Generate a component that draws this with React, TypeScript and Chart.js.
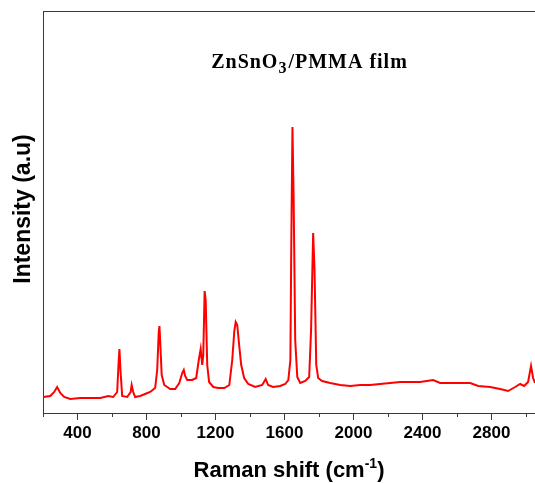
import React, { useEffect, useRef } from "react";
import { Chart, registerables } from "chart.js";

Chart.register(...registerables);

const wavenumbers = [
  201, 242, 265, 282, 300, 323, 358, 416, 474, 532, 578, 607, 630, 639, 643, 649, 659, 688,
  708, 714, 723, 734, 763, 792, 821, 850, 862, 871, 875, 879, 888, 903, 937, 966, 990, 1007,
  1016, 1024, 1036, 1065, 1088, 1103, 1114, 1123, 1129, 1137, 1143, 1152, 1163, 1187, 1216,
  1251, 1280, 1297, 1309, 1317, 1326, 1337, 1349, 1366, 1390, 1430, 1471, 1491, 1505, 1534,
  1575, 1604, 1622, 1634, 1639, 1646, 1653, 1662, 1674, 1691, 1720, 1743, 1754, 1766, 1774,
  1784, 1795, 1818, 1865, 1923, 1981, 2039, 2096, 2154, 2212, 2270, 2328, 2386, 2461, 2502,
  2560, 2618, 2676, 2723, 2792, 2850, 2896, 2937, 2966, 2989, 3012, 3029, 3041, 3052,
];
const intensity = [
  16, 17, 21, 26, 20, 16, 14, 15, 15, 15, 17, 16, 21, 53, 64, 43, 17, 16,
  21, 28, 21, 16, 17, 19, 21, 25, 43, 81, 87, 73, 38, 28, 24, 24, 30, 40,
  43, 37, 33, 33, 35, 53, 64, 48, 58, 122, 113, 48, 31, 26, 25,
  25, 28, 53, 82, 91, 88, 68, 48, 35, 29, 26, 28, 34, 28, 26,
  27, 29, 33, 53, 163, 286, 213, 73, 36, 30, 32, 36, 83, 180, 143,
  48, 35, 32, 30, 28, 27, 28, 28, 29, 30, 31, 31, 31, 33, 30,
  30, 30, 30, 27, 26, 24, 22, 26, 29, 27, 31, 47, 35, 30,
];
const majorTicks = [400, 800, 1200, 1600, 2000, 2400, 2800];
const minorTicks = [200, 600, 1000, 1400, 1800, 2200, 2600, 3000];
const xTitle = "Raman shift (cm";
const xTitleSup = "-1";
const yTitle = "Intensity (a.u)";
const annotationParts = ["ZnSnO", "3", "/PMMA film"];

const AXIS_COLOR = "#3a3a3a";
const SANS = "'Liberation Sans', Arial, sans-serif";
const SERIF = "'Liberation Serif', 'Times New Roman', serif";

const decorPlugin = {
  id: "decor",
  afterDraw(chart: any) {
    const { ctx, chartArea } = chart;
    const xs = chart.scales.x;
    ctx.save();
    // top border
    ctx.strokeStyle = AXIS_COLOR;
    ctx.lineWidth = 1;
    ctx.beginPath();
    ctx.moveTo(chartArea.left, chartArea.top + 0.5);
    ctx.lineTo(chartArea.right, chartArea.top + 0.5);
    ctx.stroke();
    // minor ticks
    ctx.beginPath();
    for (const v of minorTicks) {
      const px = Math.round(xs.getPixelForValue(v)) + 0.5;
      if (px < chartArea.left - 1 || px > chartArea.right + 1) continue;
      ctx.moveTo(px, chartArea.bottom);
      ctx.lineTo(px, chartArea.bottom + 4);
    }
    ctx.stroke();

    // x title
    ctx.fillStyle = "#000";
    ctx.textBaseline = "alphabetic";
    const tBig = "bold 22px " + SANS;
    const tSmall = "bold 14px " + SANS;
    ctx.font = tBig;
    const w1 = ctx.measureText(xTitle).width;
    const w3 = ctx.measureText(")").width;
    ctx.font = tSmall;
    const w2 = ctx.measureText(xTitleSup).width;
    const total = w1 + w2 + w3;
    const cx = 281;
    const x0 = cx - total / 2;
    const base = chartArea.bottom + 64;
    ctx.textAlign = "left";
    ctx.font = tBig;
    ctx.fillText(xTitle, x0, base);
    ctx.font = tSmall;
    ctx.fillText(xTitleSup, x0 + w1, base - 9);
    ctx.font = tBig;
    ctx.fillText(")", x0 + w1 + w2, base);

    // y title
    ctx.save();
    ctx.translate(chartArea.left - 19, (chartArea.top + chartArea.bottom) / 2 - 3);
    ctx.rotate(-Math.PI / 2);
    ctx.textAlign = "center";
    ctx.textBaseline = "middle";
    ctx.font = "bold 23px " + SANS;
    ctx.fillText(yTitle, 0, 0);
    ctx.restore();

    // annotation
    ctx.textAlign = "left";
    ctx.textBaseline = "alphabetic";
    const big = "bold 20px " + SERIF;
    const small = "bold 16px " + SERIF;
    (ctx as any).letterSpacing = "1px";
    ctx.font = big;
    const a1 = ctx.measureText(annotationParts[0]).width;
    const a3 = ctx.measureText(annotationParts[2]).width;
    ctx.font = small;
    const a2 = ctx.measureText(annotationParts[1]).width;
    const ax = 301 - (a1 + a2 + a3) / 2;
    const ab = 59.5;
    ctx.font = big;
    ctx.fillText(annotationParts[0], ax, ab);
    ctx.font = small;
    ctx.fillText(annotationParts[1], ax + a1, ab + 5);
    ctx.font = big;
    ctx.fillText(annotationParts[2], ax + a1 + a2 + 1, ab);
    (ctx as any).letterSpacing = "0px";
    ctx.restore();
  },
};

export default function App() {
  const ref = useRef<HTMLCanvasElement | null>(null);
  useEffect(() => {
    document.documentElement.style.overflow = "hidden";
    document.body.style.overflow = "hidden";
    if (!ref.current) return;
    const chart = new Chart(ref.current, {
      type: "line",
      data: {
        datasets: [
          {
            data: wavenumbers.map((w, i) => ({ x: w, y: intensity[i] })),
            borderColor: "#ff0000",
            borderWidth: 2,
            pointRadius: 0,
            tension: 0,
            fill: false,
          },
        ],
      },
      options: {
        responsive: false,
        animation: false,
        layout: { padding: { top: 3, left: 0, right: 0, bottom: 0 } },
        plugins: { legend: { display: false }, tooltip: { enabled: false }, title: { display: false } },
        scales: {
          x: {
            type: "linear",
            min: 200,
            max: 3052,
            afterBuildTicks: (scale: any) => {
              scale.ticks = majorTicks.map((v) => ({ value: v }));
            },
            afterFit: (scale: any) => {
              scale.height = 70;
              scale.paddingLeft = 0;
              scale.paddingRight = 0;
            },
            grid: {
              drawOnChartArea: false,
              drawTicks: true,
              tickLength: 7,
              color: AXIS_COLOR,
            },
            border: { display: true, color: AXIS_COLOR, width: 1 },
            ticks: {
              color: "#000",
              padding: 3,
              maxRotation: 0,
              autoSkip: false,
              font: { family: SANS, size: 17, weight: "bold" },
              callback: (v: any) => String(v),
            },
          },
          y: {
            min: 0,
            max: 402,
            afterFit: (scale: any) => {
              scale.width = 35;
              scale.paddingTop = 0;
              scale.paddingBottom = 0;
            },
            grid: { display: false },
            border: { display: true, color: AXIS_COLOR, width: 1 },
            ticks: { display: false },
          },
        },
      },
      plugins: [decorPlugin],
    } as any);
    return () => chart.destroy();
  }, []);
  return (
    <canvas
      ref={ref}
      width={527}
      height={475}
      style={{ display: "block", position: "fixed", left: 8, top: 8 }}
    />
  );
}
